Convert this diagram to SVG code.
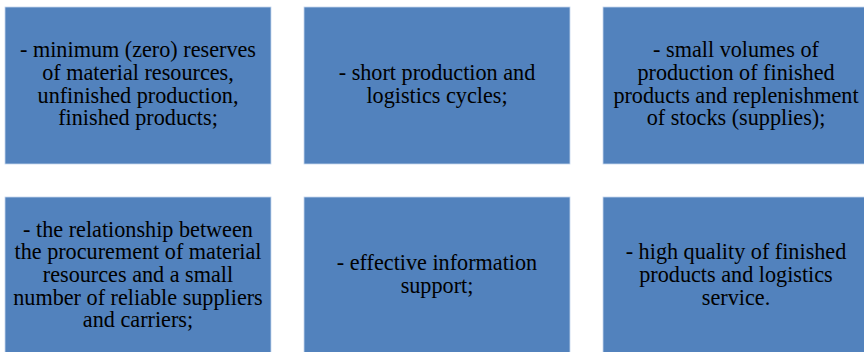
<svg xmlns="http://www.w3.org/2000/svg" width="864" height="352" viewBox="0 0 864 352">
<style>
.box{fill:#5282BD;stroke:#C5D6EE;stroke-width:0.8}
.t{font-family:'Liberation Serif','Times New Roman',serif;font-size:22.2px;fill:#000;text-anchor:middle}
</style>
<rect width="864" height="352" fill="#fff"/>
<g id="node1"><rect class="box" x="5" y="7" width="266" height="157"/>
<text class="t"><tspan x="138" y="57.3">- minimum (zero) reserves</tspan><tspan x="138" y="79.9">of material resources,</tspan><tspan x="138" y="102.5">unfinished production,</tspan><tspan x="138" y="125.1">finished products;</tspan></text></g>
<g id="node2"><rect class="box" x="304" y="7" width="266" height="157"/>
<text class="t"><tspan x="437" y="79.9">- short production and</tspan><tspan x="437" y="102.5">logistics cycles;</tspan></text></g>
<g id="node3"><rect class="box" x="603" y="7" width="266" height="157"/>
<text class="t"><tspan x="736" y="57.3">- small volumes of</tspan><tspan x="736" y="79.9">production of finished</tspan><tspan x="736" y="102.5">products and replenishment</tspan><tspan x="736" y="125.1">of stocks (supplies);</tspan></text></g>
<g id="node4"><rect class="box" x="5" y="197" width="266" height="160"/>
<text class="t"><tspan x="138" y="236.7">- the relationship between</tspan><tspan x="138" y="259.3">the procurement of material</tspan><tspan x="138" y="281.9">resources and a small</tspan><tspan x="138" y="304.5">number of reliable suppliers</tspan><tspan x="138" y="327.1">and carriers;</tspan></text></g>
<g id="node5"><rect class="box" x="304" y="197" width="266" height="160"/>
<text class="t"><tspan x="437" y="270">- effective information</tspan><tspan x="437" y="292.6">support;</tspan></text></g>
<g id="node6"><rect class="box" x="603" y="197" width="266" height="160"/>
<text class="t"><tspan x="736" y="259.3">- high quality of finished</tspan><tspan x="736" y="281.9">products and logistics</tspan><tspan x="736" y="304.5">service.</tspan></text></g>
<g id="connectors"/>
</svg>
